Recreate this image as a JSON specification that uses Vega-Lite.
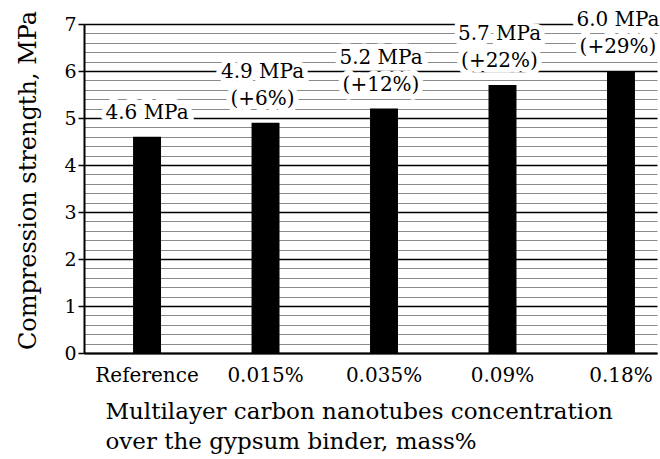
{
  "$schema": "https://vega.github.io/schema/vega-lite/v6.json",
  "autosize": "none",
  "width": 573,
  "height": 329,
  "padding": {"left": 84, "top": 24, "right": 3, "bottom": 106},
  "background": "white",
  "config": {
    "view": {"stroke": null},
    "font": "DejaVu Serif",
    "text": {"font": "DejaVu Serif"}
  },
  "data": {
    "values": [
      {"conc": "Reference", "strength": 4.6, "mpa": "4.6 MPa", "pct": null},
      {"conc": "0.015%", "strength": 4.9, "mpa": "4.9 MPa", "pct": "(+6%)"},
      {"conc": "0.035%", "strength": 5.2, "mpa": "5.2 MPa", "pct": "(+12%)"},
      {"conc": "0.09%", "strength": 5.7, "mpa": "5.7 MPa", "pct": "(+22%)"},
      {"conc": "0.18%", "strength": 6.0, "mpa": "6.0 MPa", "pct": "(+29%)"}
    ]
  },
  "encoding": {
    "x": {
      "field": "conc",
      "type": "nominal",
      "sort": null,
      "scale": {"paddingInner": 0.764, "paddingOuter": 0.3, "align": 0.69},
      "axis": {
        "title": ["Multilayer carbon nanotubes concentration", "over the gypsum binder, mass%"],
        "titleFont": "DejaVu Serif",
        "titleFontSize": 23,
        "titleFontWeight": "normal",
        "titleColor": "black",
        "titleAlign": "left",
        "titleAnchor": "start",
        "titleBaseline": "alphabetic",
        "titleX": 21,
        "titleY": 65,
        "titleLineHeight": 30,
        "labelAngle": 0,
        "labelFont": "DejaVu Serif",
        "labelFontSize": 20,
        "labelColor": "black",
        "labelPadding": 12,
        "ticks": false,
        "domainColor": "black",
        "domainWidth": 2,
        "grid": false
      }
    },
    "y": {
      "field": "strength",
      "type": "quantitative",
      "scale": {"domain": [0, 7], "nice": false},
      "axis": {
        "title": "Compression strength, MPa",
        "titleFont": "DejaVu Serif",
        "titleFontSize": 24,
        "titleFontWeight": "normal",
        "titleColor": "black",
        "titleAngle": -90,
        "titleX": -56,
        "titleY": 156,
        "titleAlign": "center",
        "titleBaseline": "middle",
        "values": [0, 0.2, 0.4, 0.6, 0.8, 1, 1.2, 1.4, 1.6, 1.8, 2, 2.2, 2.4, 2.6, 2.8, 3, 3.2, 3.4, 3.6, 3.8, 4, 4.2, 4.4, 4.6, 4.8, 5, 5.2, 5.4, 5.6, 5.8, 6, 6.2, 6.4, 6.6, 6.8, 7],
        "labelExpr": "datum.value % 1 === 0 ? format(datum.value, 'd') : ''",
        "labelFont": "DejaVu Serif",
        "labelFontSize": 19,
        "labelColor": "black",
        "labelPadding": 2,
        "tickSize": 6,
        "tickColor": {"condition": {"test": "datum.value % 1 === 0", "value": "black"}, "value": "transparent"},
        "tickWidth": 1.5,
        "domainColor": "black",
        "domainWidth": 2,
        "grid": true,
        "gridColor": {"condition": {"test": "datum.value % 1 === 0", "value": "black"}, "value": "#8a8a8a"},
        "gridWidth": {"condition": {"test": "datum.value % 1 === 0", "value": 1.6}, "value": 1}
      }
    }
  },
  "layer": [
    {"mark": {"type": "bar", "color": "black"}},
    {
      "transform": [{"filter": "datum.pct != null"}],
      "mark": {"type": "text", "baseline": "bottom", "dx": -3, "dy": -14, "fontSize": 20, "stroke": "white", "strokeWidth": 11, "strokeJoin": "round", "fill": "white"},
      "encoding": {"text": {"field": "pct"}}
    },
    {
      "transform": [{"filter": "datum.pct != null"}],
      "mark": {"type": "text", "baseline": "bottom", "dx": -3, "dy": -41, "fontSize": 20, "stroke": "white", "strokeWidth": 11, "strokeJoin": "round", "fill": "white"},
      "encoding": {"text": {"field": "mpa"}}
    },
    {
      "transform": [{"filter": "datum.pct == null"}],
      "mark": {"type": "text", "baseline": "bottom", "dx": 0, "dy": -14, "fontSize": 20, "stroke": "white", "strokeWidth": 11, "strokeJoin": "round", "fill": "white"},
      "encoding": {"text": {"field": "mpa"}}
    },
    {
      "transform": [{"filter": "datum.pct != null"}],
      "mark": {"type": "text", "baseline": "bottom", "dx": -3, "dy": -14, "fontSize": 20, "color": "black"},
      "encoding": {"text": {"field": "pct"}}
    },
    {
      "transform": [{"filter": "datum.pct != null"}],
      "mark": {"type": "text", "baseline": "bottom", "dx": -3, "dy": -41, "fontSize": 20, "color": "black"},
      "encoding": {"text": {"field": "mpa"}}
    },
    {
      "transform": [{"filter": "datum.pct == null"}],
      "mark": {"type": "text", "baseline": "bottom", "dx": 0, "dy": -14, "fontSize": 20, "color": "black"},
      "encoding": {"text": {"field": "mpa"}}
    }
  ]
}
